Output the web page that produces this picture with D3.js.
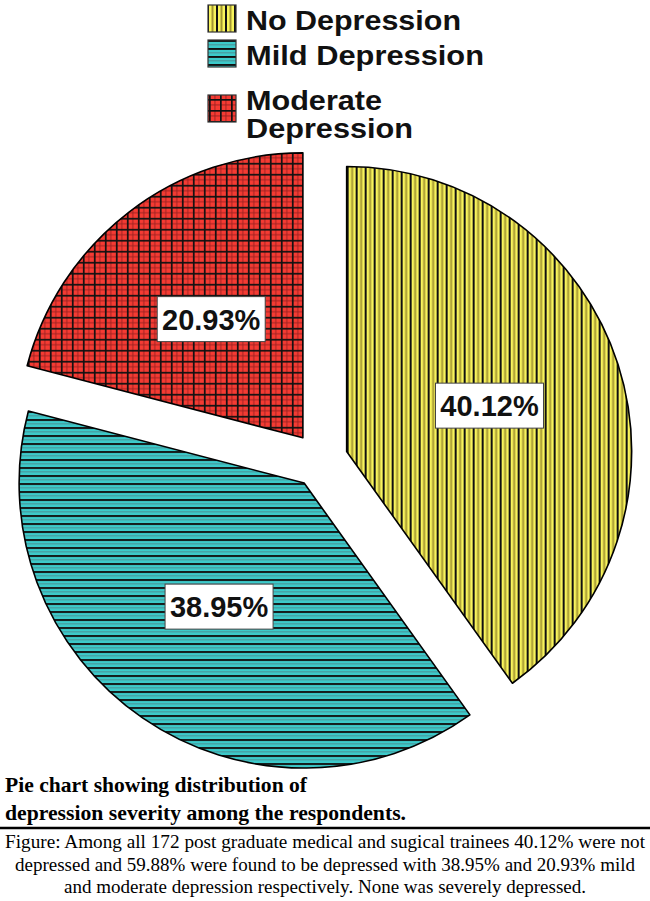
<!DOCTYPE html>
<html>
<head>
<meta charset="utf-8">
<script src="https://cdn.jsdelivr.net/npm/d3@7"></script>
<style>
  body { margin: 0; background: #fff; }
  svg { display: block; }
</style>
</head>
<body>
<script>
// data
var categories = ['No Depression', 'Mild Depression', 'Moderate Depression'];
var percentages = [40.12, 38.95, 20.93];
var pctLabels = ['40.12%', '38.95%', '20.93%'];
var legendLines = [['No Depression'], ['Mild Depression'], ['Moderate', 'Depression']];
var baseColors = ['#f8f45c', '#3ccaca', '#f53b33'];
var captionLines = ['Pie chart showing distribution of',
                    'depression severity among the respondents.'];
var figureLines = ['Figure: Among all 172 post graduate medical and sugical trainees  40.12% were not',
                   'depressed and 59.88% were found to be depressed with 38.95% and 20.93% mild',
                   'and moderate depression respectively. None was severely depressed.'];

var width = 650,
    height = 901,
    radius = 285,
    explode = 28,
    cx = 320,
    cy = 460;

var svg = d3.select('body').append('svg')
    .attr('width', width)
    .attr('height', height);

var defs = svg.append('defs');

// yellow: vertical lines
var pv = defs.append('pattern').attr('id', 'pat0')
    .attr('patternUnits', 'userSpaceOnUse')
    .attr('width', 9).attr('height', 9);
pv.append('rect').attr('width', 9).attr('height', 9).attr('fill', baseColors[0]);
pv.append('rect').attr('x', 0).attr('width', 2).attr('height', 9).attr('fill', '#111');
pv.append('rect').attr('x', 4.5).attr('width', 2).attr('height', 9).attr('fill', '#a39632');

// cyan: horizontal lines
var ph = defs.append('pattern').attr('id', 'pat1')
    .attr('patternUnits', 'userSpaceOnUse')
    .attr('width', 8).attr('height', 8);
ph.append('rect').attr('width', 8).attr('height', 8).attr('fill', baseColors[1]);
ph.append('rect').attr('y', 0).attr('width', 8).attr('height', 1.9).attr('fill', '#111');
ph.append('rect').attr('y', 4.2).attr('width', 8).attr('height', 1.2).attr('fill', '#4a9a9e');

// red: grid
var pg = defs.append('pattern').attr('id', 'pat2')
    .attr('patternUnits', 'userSpaceOnUse')
    .attr('width', 11).attr('height', 11);
pg.append('rect').attr('width', 11).attr('height', 11).attr('fill', baseColors[2]);
pg.append('rect').attr('x', 5.5).attr('width', 0.9).attr('height', 11).attr('fill', '#9a2020');
pg.append('rect').attr('y', 5.5).attr('width', 11).attr('height', 0.9).attr('fill', '#9a2020');
pg.append('rect').attr('x', 0).attr('width', 1.7).attr('height', 11).attr('fill', '#111');
pg.append('rect').attr('y', 0).attr('width', 11).attr('height', 1.7).attr('fill', '#111');

// pie
var pie = d3.pie().sort(null).value(function(d) { return d; });
var arcs = pie(percentages);

var arc = d3.arc().innerRadius(0).outerRadius(radius);
var labelArc = d3.arc().innerRadius(150).outerRadius(150);
var offsetArc = d3.arc().innerRadius(explode).outerRadius(explode);

var chart = svg.append('g')
    .attr('transform', 'translate(' + cx + ',' + cy + ')');

var slice = chart.selectAll('g.slice')
    .data(arcs)
  .enter().append('g')
    .attr('class', 'slice')
    .attr('transform', function(d) {
        var c = offsetArc.centroid(d);
        return 'translate(' + c[0] + ',' + c[1] + ')';
    });

slice.append('path')
    .attr('d', arc)
    .attr('fill', function(d, i) { return 'url(#pat' + i + ')'; })
    .attr('stroke', '#000')
    .attr('stroke-width', 1.6)
    .attr('stroke-linejoin', 'round');

var boxW = 108, boxH = 45;

var lbl = slice.append('g')
    .attr('transform', function(d) {
        var c = labelArc.centroid(d);
        return 'translate(' + c[0] + ',' + c[1] + ')';
    });

lbl.append('rect')
    .attr('x', -boxW / 2)
    .attr('y', -boxH / 2)
    .attr('width', boxW)
    .attr('height', boxH)
    .attr('fill', '#fff')
    .attr('stroke', '#444')
    .attr('stroke-width', 1);

lbl.append('text')
    .attr('text-anchor', 'middle')
    .attr('dy', '0.36em')
    .attr('font-family', '"Liberation Sans", Arial, sans-serif')
    .attr('font-weight', 'bold')
    .attr('font-size', 29)
    .attr('fill', '#111')
    .text(function(d, i) { return pctLabels[i]; });

// legend
var legendX = 208,
    textX = 246,
    lineH = 28,
    rowBase = [30, 65, 110],
    textWidths = {'No Depression': 215, 'Mild Depression': 238, 'Moderate': 136, 'Depression': 167};

var legend = svg.append('g').attr('class', 'legend');

var row = legend.selectAll('g')
    .data(categories)
  .enter().append('g');

row.append('rect')
    .attr('x', legendX)
    .attr('y', function(d, i) {
        var n = legendLines[i].length;
        var mid = rowBase[i] - 11 + (n - 1) * lineH / 2;
        return mid - 14 - (n - 1) * 4;
    })
    .attr('width', 28)
    .attr('height', 27)
    .attr('fill', function(d, i) { return 'url(#pat' + i + ')'; })
    .attr('stroke', '#333')
    .attr('stroke-width', 1.2);

row.append('text')
    .attr('font-family', '"Liberation Sans", Arial, sans-serif')
    .attr('font-weight', 'bold')
    .attr('font-size', 28)
    .attr('fill', '#111')
    .each(function(d, i) {
        var t = d3.select(this);
        legendLines[i].forEach(function(line, j) {
            t.append('tspan')
                .attr('x', textX)
                .attr('y', rowBase[i] + j * lineH)
                .attr('textLength', textWidths[line])
                .attr('lengthAdjust', 'spacingAndGlyphs')
                .text(line);
        });
    });

// caption
var capWidths = [302, 401];
svg.append('g').selectAll('text')
    .data(captionLines)
  .enter().append('text')
    .attr('x', 5)
    .attr('y', function(d, i) { return 792 + i * 28; })
    .attr('font-family', '"Liberation Serif", "Times New Roman", serif')
    .attr('font-weight', 'bold')
    .attr('font-size', 21)
    .attr('fill', '#000')
    .attr('textLength', function(d, i) { return capWidths[i]; })
    .attr('lengthAdjust', 'spacingAndGlyphs')
    .text(function(d) { return d; });

svg.append('line')
    .attr('x1', 0).attr('x2', width)
    .attr('y1', 828).attr('y2', 828)
    .attr('stroke', '#000')
    .attr('stroke-width', 2.5);

var figWidths = [640, 620, 522];
svg.append('g').selectAll('text')
    .data(figureLines)
  .enter().append('text')
    .attr('x', 325)
    .attr('y', function(d, i) { return 848 + i * 22.5; })
    .attr('text-anchor', 'middle')
    .attr('font-family', '"Liberation Serif", "Times New Roman", serif')
    .attr('font-size', 18)
    .attr('fill', '#000')
    .attr('textLength', function(d, i) { return figWidths[i]; })
    .attr('lengthAdjust', 'spacingAndGlyphs')
    .text(function(d) { return d; });
</script>
</body>
</html>
